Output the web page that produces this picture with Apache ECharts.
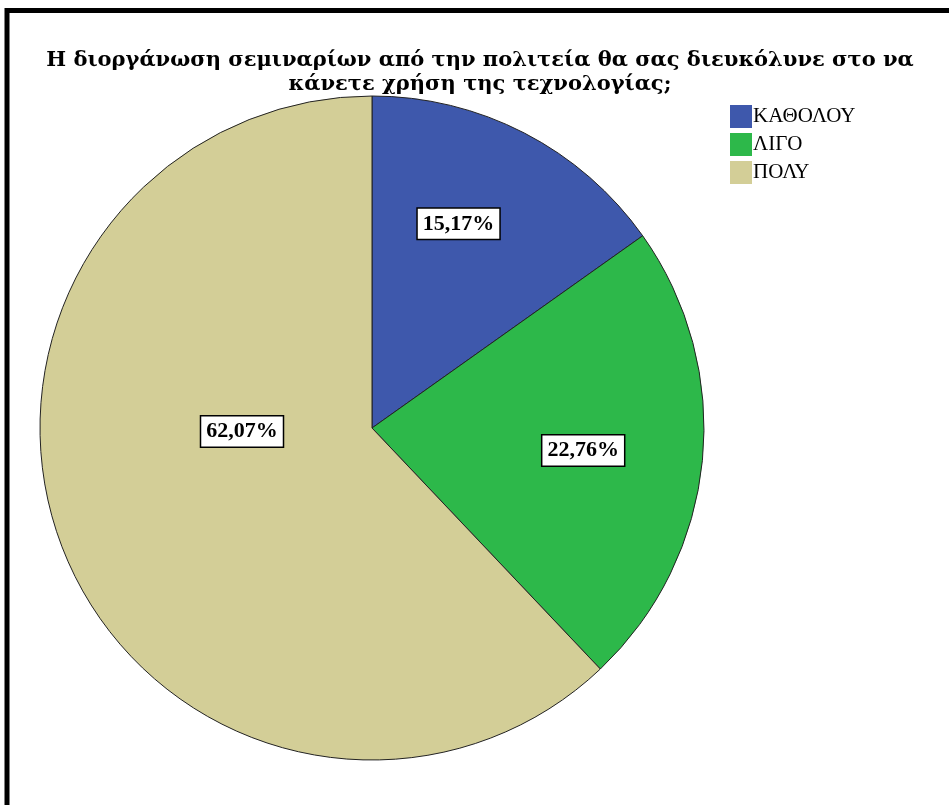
<!DOCTYPE html>
<html><head><meta charset="utf-8">
<script src="https://cdn.jsdelivr.net/npm/echarts@6/dist/echarts.min.js"></script>
<style>html,body{margin:0;padding:0;background:#fff}#c{width:949px;height:805px}</style>
</head><body><div id="c"></div>
<script>
const titleText = "Η διοργάνωση σεμιναρίων από την πολιτεία θα σας διευκόλυνε στο να\nκάνετε χρήση της τεχνολογίας;";
const categories = ["ΚΑΘΟΛΟΥ", "ΛΙΓΟ", "ΠΟΛΥ"];
const counts = [22, 33, 90];
const colors = ["#3E58AC", "#2DB84A", "#D3CE97"];
const labelOffsets = [[9, -54], [43, 6], [27, -59]];

const chart = echarts.init(document.getElementById('c'), null, {renderer: 'canvas'});
const FONT = '"Liberation Serif", "DejaVu Serif", serif';
const WIDE = '"DejaVu Serif", serif';
chart.setOption({
  animation: false,
  title: {
    text: titleText, left: 475, textAlign: 'center', top: 44,
    textStyle: {fontFamily: WIDE, fontWeight: 'bold', fontSize: 21, lineHeight: 24, color: '#000'}
  },
  legend: {
    orient: 'vertical', left: 725, top: 100, itemWidth: 22, itemHeight: 23, itemGap: 5,
    icon: 'rect', data: categories,
    itemStyle: {borderWidth: 0},
    textStyle: {fontFamily: FONT, fontSize: 21, lineHeight: 23, color: '#000', padding: [0,0,0,-4]}
  },
  graphic: [{
    type: 'polyline', shape: {points: [[7, 805], [7, 10.5], [949, 10.5]]},
    style: {stroke: '#000', lineWidth: 5, fill: null}
  }],
  series: [{
    type: 'pie', center: [372, 428], radius: 332, startAngle: 90, clockwise: true,
    percentPrecision: 2,
    itemStyle: {borderColor: '#222', borderWidth: 1},
    labelLine: {show: false},
    data: categories.map((n, i) => ({
      name: n, value: counts[i], itemStyle: {color: colors[i]},
      label: {offset: labelOffsets[i]}
    })),
    label: {
      show: true, position: 'inside',
      formatter: p => p.percent.toFixed(2).replace('.', ',') + '%',
      fontFamily: FONT, fontWeight: 'bold', fontSize: 22, color: '#000',
      backgroundColor: '#fff', borderColor: '#000', borderWidth: 1.5,
      padding: [5, 5, 3, 5]
    }
  }]
});
</script></body></html>
